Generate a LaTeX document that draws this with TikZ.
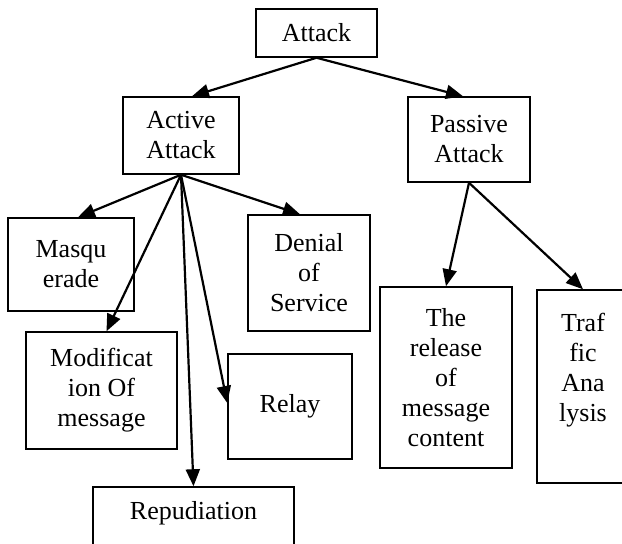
\documentclass[tikz,border=0pt]{standalone}
\usepackage{fontspec}
\setmainfont{Liberation Serif}
\usetikzlibrary{arrows.meta}
\begin{document}
\begin{tikzpicture}[x=1pt,y=-1pt,
  box/.style={draw,line width=1.5pt,rectangle,inner sep=0pt,align=center,
    font=\fontsize{26}{30}\selectfont},
  txt/.style={inner sep=0pt,align=center,font=\fontsize{26}{30}\selectfont},
  arr/.style={line width=2.2pt,-{Triangle[length=17pt,width=14pt]}}]
\useasboundingbox (0,0) rectangle (622,544);
\clip (0,0) rectangle (622,544);
\node[box,minimum width=121pt,minimum height=48pt] (attack) at (316.5,33) {Attack};
\node[box,minimum width=116pt,minimum height=77pt] (active) at (181,135.5) {Active\\Attack};
\node[box,minimum width=122pt,minimum height=85pt] (passive) at (469,139.5) {Passive\\Attack};
\node[box,minimum width=126pt,minimum height=93pt] (masq) at (71,264.5) {Masqu\\erade};
\node[box,minimum width=122pt,minimum height=116pt] (denial) at (309,273) {Denial\\of\\Service};
\node[box,minimum width=151pt,minimum height=117pt] (modif) at (101.5,390.5) {Modificat\\ion Of\\message};
\node[box,minimum width=124pt,minimum height=105pt] (relay) at (290,406.5) {\raisebox{-6pt}{Relay}};
\node[box,minimum width=201pt,minimum height=80pt] (repud) at (193.5,527) {};
\node[txt] (repudt) at (193.5,513) {Repudiation};
\node[box,minimum width=132pt,minimum height=181pt] (release) at (446,377.5) {The\\release\\of\\message\\content};
\node[box,minimum width=92pt,minimum height=193pt] (traf) at (583,386.5) {};
\node[txt] (traft) at (583,370) {Traf\\fic\\Ana\\lysis};
\draw[arr] (attack.south) -- ([xshift=11pt]active.north);
\draw[arr] (attack.south) -- ([xshift=-6pt]passive.north);
\draw[arr] (active.south) -- ([xshift=7pt]masq.north);
\draw[arr] (active.south) -- ([xshift=5pt]modif.north);
\draw[arr] (active.south) -- (repud.north);
\draw[arr] (active.south) -- ([yshift=3.5pt]relay.west);
\draw[arr] (active.south) -- ([xshift=-9pt]denial.north);
\draw[arr] (passive.south) -- (release.north);
\draw[arr] (passive.south) -- (traf.north);
\end{tikzpicture}
\end{document}
